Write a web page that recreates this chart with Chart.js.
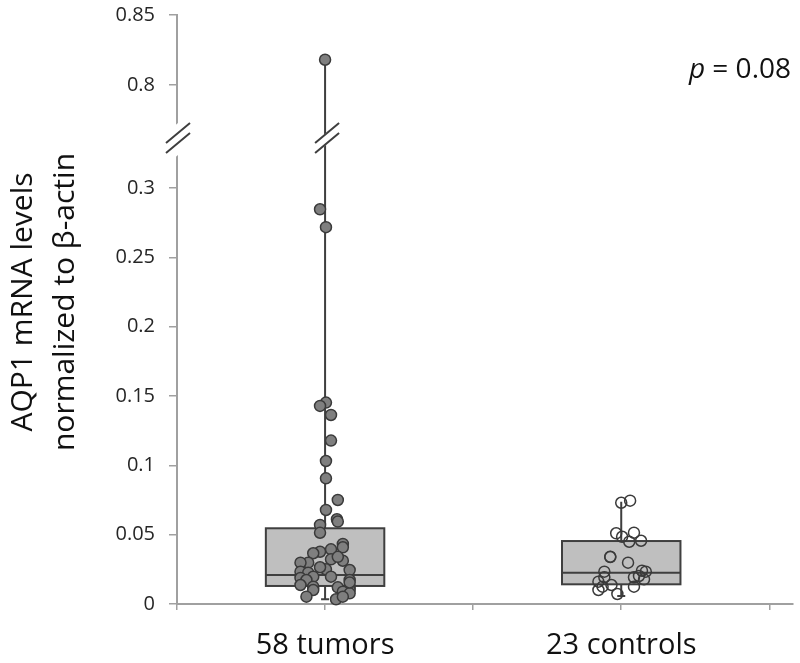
<!DOCTYPE html>
<html lang="en">
<head>
<meta charset="UTF-8">
<title>AQP1 mRNA levels</title>
<script src="https://cdn.jsdelivr.net/npm/chart.js@4.4.0/dist/chart.umd.min.js"></script>
<style>
  html, body { margin: 0; padding: 0; background: #fff; }
</style>
</head>
<body>
<canvas id="chart" width="800" height="663"></canvas>
<script>
// groups along x
const categories = ['58 tumors', '23 controls'];
const categoryPos = [1, 2];

const tumorValues = [0.818, 0.2846, 0.2717, 0.1452, 0.1428, 0.1363, 0.1178, 0.1031, 0.0906,
  0.075, 0.0678, 0.0611, 0.0594, 0.057, 0.0514, 0.0433, 0.0409, 0.0394, 0.0377, 0.0366,
  0.0322, 0.0312, 0.0298, 0.0298, 0.025, 0.0245, 0.0233, 0.0226, 0.0197, 0.0197, 0.0188,
  0.0173, 0.0173, 0.0137, 0.0125, 0.012, 0.0125, 0.0101, 0.0101, 0.0089, 0.0077, 0.0053,
  0.0034, 0.0053, 0.0155, 0.0265, 0.034];
const tumorJitter = [0, -0.017, 0.003, 0.003, -0.017, 0.02, 0.02, 0.003, 0.003,
  0.043, 0.003, 0.04, 0.043, -0.017, -0.017, 0.06, 0.06, 0.02, -0.017, -0.04,
  0.02, 0.06, -0.057, -0.083, 0.003, 0.083, -0.083, -0.057, 0.02, -0.04, -0.083,
  -0.063, 0.083, -0.083, -0.04, 0.043, 0.083, 0.083, -0.04, 0.06, 0.083, -0.063,
  0.037, 0.06, 0.083, -0.017, 0.043];
const controlValues = [0.073, 0.0745, 0.051, 0.0485, 0.0514, 0.0449, 0.0456, 0.0341, 0.0338,
  0.0298, 0.0233, 0.024, 0.0233, 0.0192, 0.0192, 0.0178, 0.0161, 0.0137, 0.0125, 0.0101,
  0.0072, 0.0202, 0.0125];
const controlJitter = [0, 0.03, -0.017, 0.003, 0.043, 0.027, 0.067, -0.037, -0.037,
  0.023, -0.057, 0.07, 0.083, -0.057, 0.043, 0.077, -0.077, -0.033, 0.043, -0.077,
  -0.013, 0.06, -0.063];

// box summaries: min, q1, median, q3, max
const tumorBox = [0.0034, 0.013, 0.0209, 0.0546, 0.818];
const controlBox = [0.0058, 0.0142, 0.0226, 0.0454, 0.0738];

// broken y axis: lower and upper part
const lowerRange = [0, 0.336];
const upperRange = [0.762, 0.85];
const lowerTicks = [0, 0.05, 0.1, 0.15, 0.2, 0.25, 0.3];
const upperTicks = [0.8, 0.85];
const xTicks = [0.5, 1, 1.5, 2, 2.5];

const yTitle = ['AQP1 mRNA levels', 'normalized to \u03b2-actin'];
const pText = '0.08';

const FONT = '"Open Sans", "Noto Sans", sans-serif';
const AXIS_GRAY = '#a0a0a0';
const INK = '#3f3f3f';

function points(values, jitter, pos, keep) {
  const out = [];
  values.forEach((v, i) => { if (keep(v)) out.push({ x: pos + jitter[i], y: v }); });
  return out;
}
const isLow = v => v <= lowerRange[1];
const isHigh = v => v > lowerRange[1];

function drawBreak(ctx, cx, cy, clearLo, clearHi) {
  const dx = 12, dy = 10, gap = 5;
  ctx.save();
  ctx.fillStyle = '#fff';
  ctx.beginPath();
  ctx.moveTo(cx - dx, cy - clearLo + dy);
  ctx.lineTo(cx + dx, cy - clearLo - dy);
  ctx.lineTo(cx + dx, cy + clearHi - dy);
  ctx.lineTo(cx - dx, cy + clearHi + dy);
  ctx.closePath();
  ctx.fill();
  ctx.strokeStyle = INK;
  ctx.lineWidth = 2;
  ctx.beginPath();
  ctx.moveTo(cx - dx, cy - gap + dy); ctx.lineTo(cx + dx, cy - gap - dy);
  ctx.moveTo(cx - dx, cy + gap + dy); ctx.lineTo(cx + dx, cy + gap - dy);
  ctx.stroke();
  ctx.restore();
}

const boxPlugin = {
  id: 'boxes',
  beforeDatasetsDraw(chart) {
    const { ctx, scales: { x, y, yTop } } = chart;
    [tumorBox, controlBox].forEach((b, i) => {
      const cx = x.getPixelForValue(categoryPos[i]);
      const half = x.getPixelForValue(categoryPos[i] + 0.2) - cx;
      const yMin = y.getPixelForValue(b[0]);
      const yQ1 = y.getPixelForValue(b[1]);
      const yMed = y.getPixelForValue(b[2]);
      const yQ3 = y.getPixelForValue(b[3]);
      ctx.save();
      ctx.strokeStyle = INK;
      ctx.lineWidth = 2;
      ctx.beginPath();
      ctx.moveTo(cx, yQ1); ctx.lineTo(cx, yMin);
      ctx.moveTo(cx - 4, yMin); ctx.lineTo(cx + 4, yMin);
      ctx.moveTo(cx, yQ3);
      if (b[4] > lowerRange[1]) {
        ctx.lineTo(cx, y.top);
        ctx.moveTo(cx, yTop.bottom);
        ctx.lineTo(cx, yTop.getPixelForValue(b[4]));
      } else {
        ctx.lineTo(cx, y.getPixelForValue(b[4]));
      }
      ctx.stroke();
      ctx.fillStyle = '#bfbfbf';
      ctx.fillRect(cx - half, yQ3, 2 * half, yQ1 - yQ3);
      ctx.strokeRect(cx - half, yQ3, 2 * half, yQ1 - yQ3);
      ctx.beginPath();
      ctx.moveTo(cx - half, yMed); ctx.lineTo(cx + half, yMed);
      ctx.stroke();
      ctx.restore();
    });
  },
  afterDatasetsDraw(chart) {
    const { ctx, chartArea, scales: { x, y } } = chart;
    // break marks where the axis jumps
    drawBreak(ctx, chartArea.left + 1, y.top, 15, 17);
    [tumorBox, controlBox].forEach((b, i) => {
      if (b[4] > lowerRange[1]) drawBreak(ctx, x.getPixelForValue(categoryPos[i]) + 2, y.top, 6, 6);
    });

    ctx.save();
    // p value
    ctx.fillStyle = '#111';
    ctx.textBaseline = 'alphabetic';
    ctx.textAlign = 'left';
    const italic = 'italic 28px ' + FONT;
    const normal = '28px ' + FONT;
    ctx.font = italic;
    const wp = ctx.measureText('p').width;
    ctx.font = normal;
    const rest = ' = ' + pText;
    const wr = ctx.measureText(rest).width;
    const start = 791 - wp - wr;
    ctx.font = italic;
    ctx.fillText('p', start, 78);
    ctx.font = normal;
    ctx.fillText(rest, start + wp, 78);

    // y axis title, two lines
    ctx.font = '30px ' + FONT;
    ctx.textAlign = 'center';
    const mid = 302;
    [32, 74].forEach((bx, k) => {
      ctx.save();
      ctx.translate(bx, mid);
      ctx.rotate(-Math.PI / 2);
      ctx.fillText(yTitle[k], 0, 0);
      ctx.restore();
    });
    ctx.restore();
  }
};

const fmt = v => String(+v.toFixed(2));
const yCommon = {
  type: 'linear',
  position: 'left',
  stack: 'broken',
  offset: false,
  grid: { drawOnChartArea: false, tickLength: 8, color: AXIS_GRAY, lineWidth: 1.5 },
  border: { color: AXIS_GRAY, width: 2 },
  ticks: { padding: 14, color: '#262626', font: { family: FONT, size: 20 }, callback: fmt, autoSkip: false },
  afterFit: s => {
    s.width = 177;
    s.paddingTop = 0;
    s.paddingBottom = 0;
  }
};

new Chart(document.getElementById('chart'), {
  type: 'scatter',
  data: {
    datasets: [
      {
        label: 'tumors',
        data: points(tumorValues, tumorJitter, categoryPos[0], isLow),
        yAxisID: 'y',
        pointRadius: 5.5,
        backgroundColor: '#7f7f7f',
        borderColor: '#3a3a3a',
        borderWidth: 1.5,
        clip: false
      },
      {
        label: 'tumors (upper part)',
        data: points(tumorValues, tumorJitter, categoryPos[0], isHigh),
        yAxisID: 'yTop',
        pointRadius: 5.5,
        backgroundColor: '#7f7f7f',
        borderColor: '#3a3a3a',
        borderWidth: 1.5,
        clip: false
      },
      {
        label: 'controls',
        data: points(controlValues, controlJitter, categoryPos[1], isLow),
        yAxisID: 'y',
        pointRadius: 5.5,
        backgroundColor: 'rgba(0,0,0,0)',
        borderColor: '#3a3a3a',
        borderWidth: 1.5,
        clip: false
      }
    ]
  },
  options: {
    responsive: false,
    animation: false,
    devicePixelRatio: 1,
    layout: { padding: { top: 15, left: 0, right: 0, bottom: 0 } },
    plugins: { legend: { display: false }, tooltip: { enabled: false } },
    scales: {
      x: {
        type: 'linear',
        min: 0.5,
        max: 2.58,
        afterBuildTicks: s => { s.ticks = xTicks.map(v => ({ value: v })); },
        grid: { drawOnChartArea: false, tickLength: 6, color: AXIS_GRAY, lineWidth: 1.5 },
        border: { color: AXIS_GRAY, width: 2 },
        ticks: {
          padding: 18,
          autoSkip: false,
          maxRotation: 0,
          color: '#111',
          font: { family: FONT, size: 29 },
          callback: v => {
            const i = categoryPos.indexOf(v);
            return i >= 0 ? categories[i] : '';
          }
        },
        afterFit: s => { s.height = 59; }
      },
      y: Object.assign({}, yCommon, {
        min: lowerRange[0],
        max: lowerRange[1],
        stackWeight: 466,
        afterBuildTicks: s => { s.ticks = lowerTicks.map(v => ({ value: v })); }
      }),
      yTop: Object.assign({}, yCommon, {
        min: upperRange[0],
        max: upperRange[1],
        stackWeight: 123,
        afterBuildTicks: s => { s.ticks = upperTicks.map(v => ({ value: v })); }
      })
    }
  },
  plugins: [boxPlugin]
});
</script>
</body>
</html>
